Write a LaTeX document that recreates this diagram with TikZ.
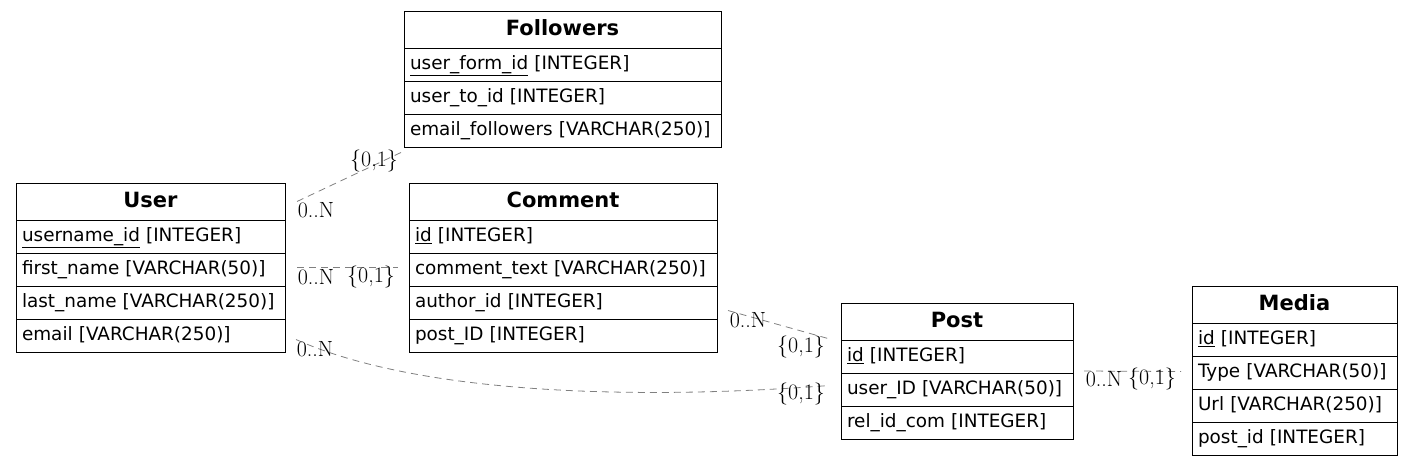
\documentclass[tikz,border=0pt]{standalone}
\usepackage{fontspec}
\setsansfont{DejaVu Sans}
\usepackage{tikz}
\usetikzlibrary{calc, positioning}
\tikzstyle{tabhead} = [rectangle, draw, line width=1pt, outer sep=0pt, inner sep=0pt, minimum height=37pt, text height=15pt, text depth=4pt, font=\sffamily\bfseries\fontsize{21}{25}\selectfont]
\tikzset{tabrow/.style={rectangle, draw, line width=1pt, outer sep=0pt, inner xsep=6pt, inner ysep=0pt, minimum height=33pt, text height=14pt, text depth=4pt, text width=#1, align=left, font=\sffamily\fontsize{18.4}{22}\selectfont}}
\tikzstyle{rel} = [draw=gray, dash pattern=on 7pt off 5pt, line width=0.8pt]
\tikzstyle{card} = [inner sep=0pt, font=\fontsize{22}{26}\selectfont]

\begin{document}
\begin{tikzpicture}[x=1pt, y=-1pt]
        \useasboundingbox (0, 0) rectangle (1413, 467);

        % User
        \node[tabhead, minimum width=269pt] at (150.5, 201.5) (User) {User};
        \node[tabrow=257pt, below=0pt of User] (username_id) {\underline{username\_id} [INTEGER]};
        \node[tabrow=257pt, below=0pt of username_id] (first_name) {first\_name [VARCHAR(50)]};
        \node[tabrow=257pt, below=0pt of first_name] (last_name) {last\_name [VARCHAR(250)]};
        \node[tabrow=257pt, below=0pt of last_name] (email) {email [VARCHAR(250)]};

        % Followers
        \node[tabhead, minimum width=317pt] at (562.5, 29.5) (Followers) {Followers};
        \node[tabrow=305pt, below=0pt of Followers] (user_form_id) {\underline{user\_form\_id} [INTEGER]};
        \node[tabrow=305pt, below=0pt of user_form_id] (user_to_id) {user\_to\_id [INTEGER]};
        \node[tabrow=305pt, below=0pt of user_to_id] (email_followers) {email\_followers [VARCHAR(250)]};

        % Comment
        \node[tabhead, minimum width=308pt] at (563, 201.5) (Comment) {Comment};
        \node[tabrow=296pt, below=0pt of Comment] (comment_id) {\underline{id} [INTEGER]};
        \node[tabrow=296pt, below=0pt of comment_id] (comment_text) {comment\_text [VARCHAR(250)]};
        \node[tabrow=296pt, below=0pt of comment_text] (author_id) {author\_id [INTEGER]};
        \node[tabrow=296pt, below=0pt of author_id] (post_ID) {post\_ID [INTEGER]};

        % Post
        \node[tabhead, minimum width=232pt] at (957, 321.5) (Post) {Post};
        \node[tabrow=220pt, below=0pt of Post] (post_id_key) {\underline{id} [INTEGER]};
        \node[tabrow=220pt, below=0pt of post_id_key] (user_ID) {user\_ID [VARCHAR(50)]};
        \node[tabrow=220pt, below=0pt of user_ID] (rel_id_com) {rel\_id\_com [INTEGER]};

        % Media
        \node[tabhead, minimum width=205pt] at (1294.5, 304.5) (Media) {Media};
        \node[tabrow=193pt, below=0pt of Media] (media_id) {\underline{id} [INTEGER]};
        \node[tabrow=193pt, below=0pt of media_id] (Type) {Type [VARCHAR(50)]};
        \node[tabrow=193pt, below=0pt of Type] (Url) {Url [VARCHAR(250)]};
        \node[tabrow=193pt, below=0pt of Url] (media_post_id) {post\_id [INTEGER]};

        % relations
        \draw[rel] ($(User.east)+(12, 0)$) -- ($(email_followers.south west)+(-2, 5)$);
        \draw[rel] ($(first_name.east)+(12, -2)$) -- ($(comment_text.west)+(-11, -2)$);
        \draw[rel] ($(email.east)+(11, 4)$) .. controls (420, 395) and (640, 400) .. ($(user_ID.west)+(-12, -4)$);
        \draw[rel] ($(author_id.east)+(11, 8)$) -- ($(post_id_key.west)+(-13, -18)$);
        \draw[rel] ($(post_id_key.south east)+(11, -2)$) -- ($(Type.west)+(-11, -1)$);

        \node[card] at (316, 210) (UserFollowersN) {0..N};
        \node[card] at (374, 161) (UserFollowersOne) {\{0,1\}};
        \node[card] at (316, 277) (UserCommentN) {0..N};
        \node[card] at (371, 277) (UserCommentOne) {\{0,1\}};
        \node[card] at (315, 349) (UserPostN) {0..N};
        \node[card] at (801, 394) (UserPostOne) {\{0,1\}};
        \node[card] at (748, 320) (CommentPostN) {0..N};
        \node[card] at (801, 347) (CommentPostOne) {\{0,1\}};
        \node[card] at (1104, 379) (PostMediaN) {0..N};
        \node[card] at (1152, 379) (PostMediaOne) {\{0,1\}};
    \end{tikzpicture}
\end{document}
